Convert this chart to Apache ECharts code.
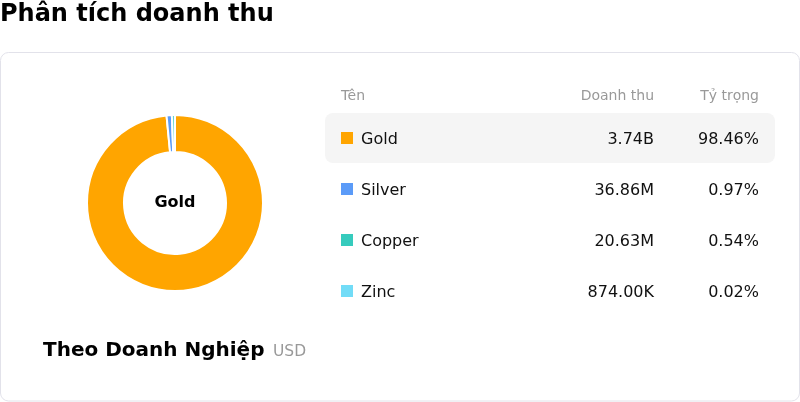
<!DOCTYPE html>
<html>
<head>
<meta charset="utf-8">
<script src="https://cdn.jsdelivr.net/npm/echarts@6/dist/echarts.min.js"></script>
<style>
html,body{margin:0;padding:0;background:#fff;}
#chart{width:800px;height:402px;}
</style>
</head>
<body>
<div id="chart"></div>
<script>
const categories = ['Gold', 'Silver', 'Copper', 'Zinc'];
const revenues = [3740000000, 36860000, 20630000, 874000];
const revenueLabels = ['3.74B', '36.86M', '20.63M', '874.00K'];
const shareLabels = ['98.46%', '0.97%', '0.54%', '0.02%'];
const colors = ['#FFA500', '#5B9BF8', '#36CBBD', '#72DCF7'];
const headers = ['Tên', 'Doanh thu', 'Tỷ trọng'];

const FONT = '"DejaVu Sans", sans-serif';
const chart = echarts.init(document.getElementById('chart'), null, {renderer: 'canvas'});

const rowTop = 113, rowH = 51;
const graphics = [
  {type: 'rect', z: -10, shape: {x: 0.5, y: 52.5, width: 799, height: 348.5, r: 8},
   style: {fill: '#fff', stroke: '#e2e2ea', lineWidth: 1}},
  {type: 'rect', z: -5, shape: {x: 325, y: rowTop, width: 450, height: 50, r: 8},
   style: {fill: '#f5f5f5'}},
  {type: 'text', x: 341, y: 96, style: {text: headers[0], fill: '#999', font: '14px ' + FONT, textVerticalAlign: 'middle'}},
  {type: 'text', x: 654, y: 96, style: {text: headers[1], fill: '#999', font: '14px ' + FONT, textAlign: 'right', textVerticalAlign: 'middle'}},
  {type: 'text', x: 759, y: 96, style: {text: headers[2], fill: '#999', font: '14px ' + FONT, textAlign: 'right', textVerticalAlign: 'middle'}},
  {type: 'text', x: 175, y: 203, style: {text: categories[0], fill: '#000', font: 'bold 16px ' + FONT, textAlign: 'center', textVerticalAlign: 'middle'}},
  {type: 'text', x: 43, y: 350.5, style: {text: 'Theo Doanh Nghiệp', fill: '#000', font: 'bold 20px ' + FONT, textVerticalAlign: 'middle'}},
  {type: 'text', x: 273, y: 351.5, style: {text: 'USD', fill: '#999', font: '15.5px ' + FONT, textVerticalAlign: 'middle'}}
];
categories.forEach((name, i) => {
  const cy = rowTop + 26.5 + i * rowH;
  graphics.push(
    {type: 'rect', shape: {x: 341, y: rowTop + 25 + i * rowH - 6, width: 12, height: 12}, style: {fill: colors[i]}},
    {type: 'text', x: 361, y: cy, style: {text: name, fill: '#111', font: '16px ' + FONT, textVerticalAlign: 'middle'}},
    {type: 'text', x: 654, y: cy, style: {text: revenueLabels[i], fill: '#111', font: '16px ' + FONT, textAlign: 'right', textVerticalAlign: 'middle'}},
    {type: 'text', x: 759, y: cy, style: {text: shareLabels[i], fill: '#111', font: '16px ' + FONT, textAlign: 'right', textVerticalAlign: 'middle'}}
  );
});

chart.setOption({
  animation: false,
  title: {text: 'Phân tích doanh thu', left: 0, top: 0, padding: [3, 0, 0, 0],
    textStyle: {fontFamily: FONT, fontSize: 24, fontWeight: 'bold', color: '#000'}},
  series: [{
    type: 'pie',
    center: [175, 203],
    radius: [51, 88],
    startAngle: 90,
    clockwise: true,
    silent: true,
    label: {show: false},
    labelLine: {show: false},
    itemStyle: {borderColor: '#fff', borderWidth: 2},
    data: categories.map((n, i) => ({name: n, value: revenues[i], itemStyle: {color: colors[i]}}))
  }],
  graphic: graphics
});
</script>
</body>
</html>
